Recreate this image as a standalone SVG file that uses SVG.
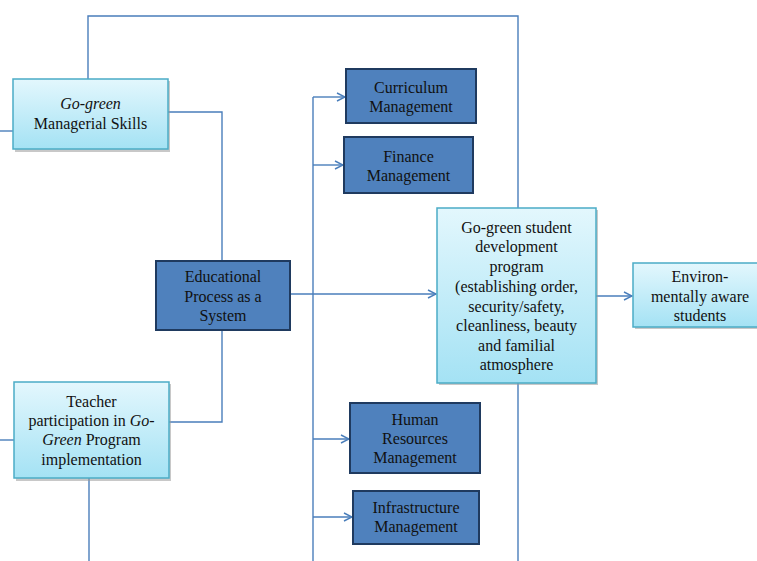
<svg xmlns="http://www.w3.org/2000/svg" width="757" height="561" viewBox="0 0 757 561">
<style>
.light{fill:url(#lg);stroke:#4bacc6;stroke-width:1.5}
.dark{fill:#4f81bd;stroke:#1f3a5f;stroke-width:2}
.sh{fill:#9a9a9a;opacity:0.55}
text{font-family:'Liberation Serif','DejaVu Serif',serif;font-size:16px;fill:#111;text-anchor:middle}
.c{fill:none;stroke:#4a7ebb;stroke-width:1.4}
.i{font-style:italic}
</style>
<defs>
<linearGradient id="lg" x1="0" y1="0" x2="0" y2="1">
<stop offset="0" stop-color="#e3f7fd"/>
<stop offset="1" stop-color="#a4e2f4"/>
</linearGradient>
<marker id="ar" markerWidth="10" markerHeight="10" refX="9" refY="5" orient="auto" markerUnits="userSpaceOnUse">
<path d="M1,1 L9,5 L1,9" fill="none" stroke="#4a7ebb" stroke-width="1.4"/>
</marker>
</defs>
<rect width="757" height="561" fill="#fff"/>
<g id="connectors">
<path class="c" d="M0,131 H13"/>
<path class="c" d="M0,440 H14"/>
<path class="c" d="M88,79 V16 H518 V208"/>
<path class="c" d="M518,383 V561"/>
<path class="c" d="M168,112 H222 V261"/>
<path class="c" d="M169,422 H222 V330"/>
<path class="c" d="M89,478 V561"/>
<path class="c" d="M290,294 H436" marker-end="url(#ar)"/>
<path class="c" d="M313,97 V561"/>
<path class="c" d="M313,97 H345" marker-end="url(#ar)"/>
<path class="c" d="M313,165 H343" marker-end="url(#ar)"/>
<path class="c" d="M313,439 H349" marker-end="url(#ar)"/>
<path class="c" d="M313,517 H352" marker-end="url(#ar)"/>
<path class="c" d="M596,296 H632" marker-end="url(#ar)"/>
</g>
<g id="managerial">
<rect class="sh" x="15" y="81" width="155" height="71"/>
<rect class="light" x="13" y="79" width="155" height="70"/>
<text x="90.5" y="109"><tspan class="i">Go-green</tspan></text>
<text x="90.5" y="129">Managerial  Skills</text>
</g>
<g id="teacher">
<rect class="sh" x="16" y="384" width="155" height="97"/>
<rect class="light" x="14" y="382" width="155" height="96"/>
<text x="91.5" y="407">Teacher</text>
<text x="91.5" y="426">participation in <tspan class="i">Go-</tspan></text>
<text x="91.5" y="445"><tspan class="i">Green</tspan> Program</text>
<text x="91.5" y="465">implementation</text>
</g>
<g id="educational">
<rect class="dark" x="156" y="261" width="134" height="69"/>
<text x="223" y="282">Educational</text>
<text x="223" y="302">Process as a</text>
<text x="223" y="321">System</text>
</g>
<g id="curriculum">
<rect class="dark" x="346" y="69" width="130" height="54"/>
<text x="411" y="93">Curriculum</text>
<text x="411" y="112">Management</text>
</g>
<g id="finance">
<rect class="dark" x="344" y="137" width="129" height="56"/>
<text x="408.5" y="162">Finance</text>
<text x="408.5" y="181">Management</text>
</g>
<g id="hr">
<rect class="dark" x="350" y="403" width="130" height="70"/>
<text x="415" y="425">Human</text>
<text x="415" y="444">Resources</text>
<text x="415" y="463">Management</text>
</g>
<g id="infrastructure">
<rect class="dark" x="353" y="491" width="126" height="53"/>
<text x="416" y="513">Infrastructure</text>
<text x="416" y="532">Management</text>
</g>
<g id="student-program">
<rect class="sh" x="439" y="210" width="159" height="175"/>
<rect class="light" x="437" y="208" width="159" height="175"/>
<text x="516.5" y="233">Go-green student</text>
<text x="516.5" y="252">development</text>
<text x="516.5" y="272">program</text>
<text x="516.5" y="292">(establishing order,</text>
<text x="516.5" y="312">security/safety,</text>
<text x="516.5" y="331">cleanliness,  beauty</text>
<text x="516.5" y="351">and familial</text>
<text x="516.5" y="370">atmosphere</text>
</g>
<g id="aware">
<rect class="sh" x="635" y="265" width="130" height="64"/>
<rect class="light" x="633" y="263" width="130" height="64"/>
<text x="700" y="282">Environ-</text>
<text x="700" y="302">mentally aware</text>
<text x="700" y="321">students</text>
</g>
</svg>
